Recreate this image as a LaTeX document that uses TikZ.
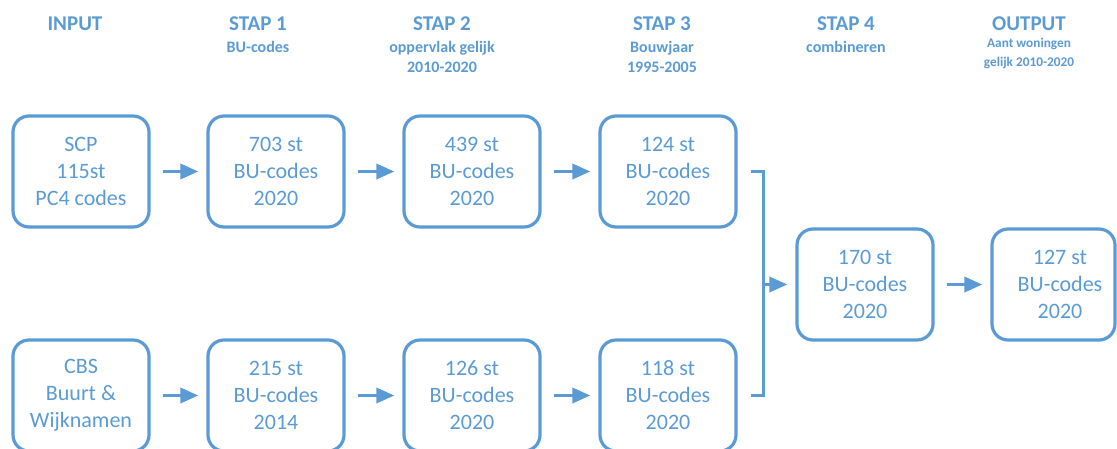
\documentclass[tikz,border=0pt]{standalone}
\usepackage{fontspec}
\setmainfont{Carlito}
\usetikzlibrary{arrows.meta}
\definecolor{flowblue}{RGB}{91,155,213}
\begin{document}
\begin{tikzpicture}[x=1pt,y=-1pt,
  stepbox/.style={draw=flowblue, line width=3.2pt, rounded corners=16pt,
    minimum width=136pt, minimum height=111pt, inner sep=0pt,
    align=center, text=flowblue, font=\fontsize{22}{27}\selectfont},
  boxlabel/.style={inner sep=0pt, align=center, text=flowblue,
    font=\fontsize{22}{27}\selectfont},
  headtitle/.style={anchor=base, inner sep=0pt, text=flowblue,
    font=\bfseries\fontsize{21}{25}\selectfont},
  headsub/.style={anchor=base, inner sep=0pt, text=flowblue,
    font=\bfseries\fontsize{16}{19}\selectfont},
  headsmall/.style={anchor=base, inner sep=0pt, text=flowblue,
    font=\bfseries\fontsize{13.3}{16}\selectfont},
  flowarrow/.style={draw=flowblue, line width=3.4pt,
    -{Triangle[length=18pt,width=15pt]}, shorten <=12pt, shorten >=8pt},
  bracket/.style={draw=flowblue, line width=3.4pt, line join=miter}]

\useasboundingbox (0,0) rectangle (1117,448);
\clip (0,0) rectangle (1117,448);

% column headings
\node[headtitle] (hin) at (75,30) {INPUT};
\node[headtitle] (h1) at (258,30) {STAP 1};
\node[headsub] (h1a) at (258,52) {BU-codes};
\node[headtitle] (h2) at (442,30) {STAP 2};
\node[headsub] (h2a) at (442,52) {oppervlak gelijk};
\node[headsub] (h2b) at (442,72) {2010-2020};
\node[headtitle] (h3) at (662,30) {STAP 3};
\node[headsub] (h3a) at (662,52) {Bouwjaar};
\node[headsub] (h3b) at (662,72) {1995-2005};
\node[headtitle] (h4) at (846,30) {STAP 4};
\node[headsub] (h4a) at (846,52) {combineren};
\node[headtitle] (hout) at (1029,30) {OUTPUT};
\node[headsmall] (houta) at (1029,47) {Aant woningen};
\node[headsmall] (houtb) at (1029,66) {gelijk 2010-2020};

% upper chain
\node[stepbox] (t0) at (81,171.5) {SCP\\115st\\PC4 codes};
\node[stepbox] (t1) at (276,171.5) {703 st\\BU-codes\\2020};
\node[stepbox] (t2) at (472,171.5) {439 st\\BU-codes\\2020};
\node[stepbox] (t3) at (668,171.5) {124 st\\BU-codes\\2020};

% lower chain
\node[stepbox] (b0) at (81,395.5) {CBS\\Buurt \&\\Wijknamen};
\node[stepbox] (b1) at (276,395.5) {215 st\\BU-codes\\2014};
\node[stepbox] (b2) at (472,395.5) {126 st\\BU-codes\\2020};
\node[stepbox] (b3) at (668,395.5) {118 st\\BU-codes\\2020};

% combined and output
\node[stepbox] (mid) at (865,284.5) {170 st\\BU-codes\\2020};
\node[stepbox, minimum width=123pt] (out) at (1053.5,284.5) {};
\node[boxlabel] (outtxt) at (1060,284.5) {127 st\\BU-codes\\2020};

% arrows
\draw[flowarrow] (t0.east) -- (t1.west);
\draw[flowarrow] (t1.east) -- (t2.west);
\draw[flowarrow] (t2.east) -- (t3.west);
\draw[flowarrow] (b0.east) -- (b1.west);
\draw[flowarrow] (b1.east) -- (b2.west);
\draw[flowarrow] (b2.east) -- (b3.west);

% bracket joining both chains
\coordinate (jtop) at ([xshift=26pt]t3.east);
\coordinate (jn) at (jtop |- mid.west);
\draw[bracket] ([xshift=13pt]t3.east) -- (jtop) |- ([xshift=13pt]b3.east);
\draw[flowarrow, shorten <=0pt] (jn) -- (mid.west);
\draw[flowarrow] (mid.east) -- (out.west);
\end{tikzpicture}
\end{document}
